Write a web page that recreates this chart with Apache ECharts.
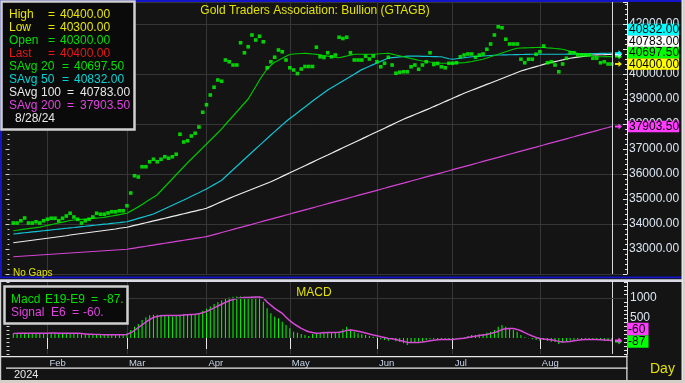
<!DOCTYPE html>
<html><head><meta charset="utf-8">
<script src="https://cdn.jsdelivr.net/npm/echarts@6/dist/echarts.min.js"></script>
<style>html,body{margin:0;padding:0;background:#141414;}#c{width:685px;height:383px;}</style>
</head><body><div id="c"></div>
<script>
// ---------------- data ----------------
const firstCategory = '2024-01-18';   // one empty day before the first bar
const categoryCount = 164;            // weekdays Jan 18 .. Sep 3 (4 empty days after last bar)
const firstDataIndex = 1;
const priceLabelTicks = [33000, 34000, 35000, 36000, 37000, 38000, 39000, 40000, 41000, 42000];
const macdLabelTicks = [500, 1000];
const lastHigh = 40400, lastLow = 40300, lastOpen = 40300;

const close = [
34040,34040,34130,34240,34040,34040,34090,34040,34130,34190,
34230,34230,34130,34230,34320,34430,34280,34190,34040,34130,
34190,34280,34430,34390,34390,34440,34490,34490,34530,34530,
34730,35240,35930,35880,36290,36290,36490,36590,36490,36590,
36690,36630,36690,36790,37590,37280,37330,37520,37630,37880,
38470,38770,39160,39470,39760,39710,40560,40490,40360,40360,
41250,40850,41090,41560,41360,41510,41290,40250,40490,40670,
40960,40890,40560,40250,40160,40020,40200,40300,40300,40300,
41070,40690,40660,40850,40690,40760,41470,41420,41470,40850,
40560,40560,40560,40710,40600,40720,40490,40290,40430,40670,
40360,40030,40070,40090,40090,40290,40360,40190,40360,40490,
40850,40380,40420,40290,40250,40430,40430,40450,40690,40760,
40800,40800,40670,40760,40800,40990,41200,41560,41890,41850,
41390,41200,41200,41200,40590,40450,40590,40590,40790,40890,
41120,40450,40490,40360,40090,40400,40630,40850,40850,40760,
40760,40760,40760,40630,40630,40450,40490,40400,40400];

const sma20 = [
33730,33751,33772,33793,33814,33835,33856,33877,33910,33943,
33976,34009,34042,34075,34108,34140,34160,34173,34186,34199,
34212,34225,34238,34251,34264,34292,34320,34348,34376,34404,
34430,34515,34600,34685,34782,34879,34976,35073,35170,35330,
35490,35650,35810,35970,36130,36290,36450,36600,36750,36900,
37050,37200,37350,37500,37650,37805,37980,38150,38320,38490,
38660,38830,39000,39250,39500,39760,39990,40200,40350,40470,
40550,40630,40710,40780,40800,40810,40820,40830,40815,40800,
40785,40765,40740,40715,40690,40665,40650,40685,40720,40755,
40790,40790,40790,40790,40790,40790,40800,40810,40820,40830,
40795,40760,40725,40690,40655,40620,40585,40550,40520,40500,
40480,40465,40450,40430,40430,40430,40435,40440,40445,40450,
40475,40500,40530,40560,40590,40640,40690,40740,40790,40840,
40890,40940,40990,41030,41040,41045,41050,41055,41060,41070,
41060,41045,41035,41020,41005,40990,40950,40910,40870,40830,
40800,40775,40750,40720,40690,40690,40692,40695,40697.5];

const sma50 = [
33600,33616,33633,33649,33665,33682,33698,33714,33731,33747,
33763,33780,33796,33812,33829,33845,33861,33878,33894,33910,
33927,33943,33959,33976,33992,34008,34025,34041,34057,34074,
34090,34134,34178,34222,34266,34310,34354,34400,34470,34540,
34610,34680,34750,34820,34890,34960,35033,35107,35180,35253,
35327,35400,35488,35575,35663,35750,35890,36030,36170,36310,
36450,36590,36730,36870,37008,37146,37284,37422,37560,37695,
37830,37965,38100,38217,38333,38450,38567,38683,38800,38917,
39027,39137,39247,39357,39448,39539,39630,39721,39812,39903,
39994,40085,40176,40242,40308,40374,40440,40506,40572,40638,
40653,40668,40683,40698,40713,40720,40716,40712,40708,40704,
40700,40696,40692,40690,40650,40610,40590,40610,40630,40650,
40670,40690,40700,40710,40720,40730,40740,40750,40760,40763,
40767,40770,40773,40777,40780,40783,40787,40790,40790,40790,
40790,40790,40790,40790,40790,40790,40793,40797,40800,40803,
40806,40809,40812,40816,40819,40822,40825,40829,40832];

const sma100 = [
33250,33270,33290,33310,33330,33350,33370,33390,33410,33430,
33450,33470,33490,33510,33530,33560,33580,33600,33620,33640,
33660,33680,33700,33720,33740,33760,33780,33800,33830,33850,
33870,33906,33942,33978,34014,34050,34086,34122,34158,34194,
34230,34266,34302,34338,34374,34410,34446,34482,34518,34554,
34590,34630,34696,34762,34828,34894,34960,35026,35090,35150,
35210,35270,35330,35390,35450,35510,35570,35630,35690,35761,
35833,35904,35976,36047,36119,36190,36261,36333,36404,36476,
36547,36619,36690,36761,36833,36904,36976,37047,37119,37190,
37261,37333,37404,37476,37547,37619,37690,37761,37833,37904,
37976,38047,38119,38190,38253,38316,38379,38441,38504,38567,
38630,38697,38763,38830,38897,38963,39030,39097,39163,39230,
39289,39348,39407,39466,39524,39583,39642,39701,39760,39820,
39880,39940,40000,40060,40120,40164,40209,40253,40297,40341,
40386,40430,40463,40497,40530,40563,40597,40630,40652,40673,
40695,40717,40738,40760,40765,40770,40774,40779,40783];

const sma200 = [
32690,32700,32710,32720,32730,32740,32750,32760,32770,32780,
32790,32800,32810,32820,32830,32840,32850,32860,32870,32880,
32890,32900,32910,32920,32930,32940,32950,32960,32970,32980,
32990,33014,33038,33062,33086,33110,33134,33158,33182,33206,
33230,33254,33278,33302,33326,33350,33374,33398,33422,33446,
33470,33494,33535,33576,33618,33659,33700,33741,33782,33824,
33865,33906,33947,33988,34030,34071,34112,34153,34194,34236,
34277,34318,34359,34400,34442,34483,34524,34565,34606,34648,
34689,34730,34771,34812,34854,34895,34936,34977,35018,35060,
35101,35142,35183,35224,35266,35307,35348,35389,35430,35472,
35513,35554,35595,35636,35678,35719,35760,35801,35842,35884,
35925,35966,36007,36048,36090,36131,36172,36213,36254,36296,
36337,36378,36419,36460,36502,36543,36584,36625,36666,36708,
36749,36790,36831,36872,36914,36955,36996,37037,37078,37120,
37161,37202,37243,37284,37326,37367,37408,37449,37490,37532,
37573,37614,37655,37696,37738,37779,37820,37861,37903.5];

const macd = [
110,120,125,130,125,120,120,118,120,122,
125,122,120,120,118,125,115,110,95,85,
80,80,85,80,78,75,75,78,80,85,
120,200,280,350,450,520,567,580,583,583,
575,575,540,550,583,600,600,600,590,617,
680,730,790,850,900,940,985,1010,1030,1035,
1040,1030,1030,1040,1030,1030,908,742,617,533,
492,408,325,242,158,133,100,75,50,100,
117,130,158,133,133,133,158,217,283,217,
158,117,92,75,50,33,17,-33,-50,-67,
-33,-83,-100,-133,-175,-117,-117,-92,-92,-50,
-33,-33,-33,-33,-33,-33,-33,-8,-8,17,
50,75,75,92,100,130,158,200,283,325,
283,242,200,158,75,17,-8,-33,-50,-67,
-50,-67,-92,-100,-150,-117,-92,-67,-50,-33,
-33,-33,-33,-33,-50,-50,-67,-50,-87];

const signal = [
115,116,118,120,121,121,121,120,120,121,
122,122,121,121,120,121,119,116,110,103,
96,91,89,86,84,81,79,79,79,81,
90,130,190,260,330,400,460,517,540,555,
562,565,560,560,565,572,580,588,592,605,
630,662,705,752,800,845,890,930,960,985,
1000,1010,1015,1020,1022,1024,1000,900,820,742,
680,617,520,433,360,300,242,195,158,135,
120,125,132,135,135,140,145,160,190,200,
190,170,150,125,100,75,55,30,10,-10,
-20,-40,-60,-80,-110,-115,-115,-110,-100,-85,
-70,-55,-45,-40,-35,-35,-35,-25,-15,-5,
10,30,45,60,75,90,110,135,170,210,
230,240,235,215,180,135,90,50,15,-10,
-25,-35,-45,-60,-90,-100,-95,-85,-70,-55,
-45,-40,-35,-35,-40,-45,-50,-55,-60];

[['close',close],['sma20',sma20],['sma50',sma50],['sma100',sma100],['sma200',sma200],['macd',macd],['signal',signal]]
  .forEach(([n,a]) => { if (a.length !== 159) throw new Error(n + ' has ' + a.length); });

// ---------------- categories (weekdays, "No Gaps") ----------------
const MONTHS = ['Jan','Feb','Mar','Apr','May','Jun','Jul','Aug','Sep','Oct','Nov','Dec'];
const categories = [];
{
  const d = new Date(firstCategory + 'T00:00:00Z');
  while (categories.length < categoryCount) {
    const wd = d.getUTCDay();
    if (wd !== 0 && wd !== 6) categories.push(d.toISOString().slice(0, 10));
    d.setUTCDate(d.getUTCDate() + 1);
  }
}
const lastDataIndex = firstDataIndex + close.length - 1;
const lastDate = categories[lastDataIndex];
const monthStart = new Set();
for (let i = firstDataIndex; i <= lastDataIndex; i++) {
  if (i > 0 && categories[i].slice(5, 7) !== categories[i - 1].slice(5, 7)) monthStart.add(i);
}
const isMonthStart = (idx) => monthStart.has(idx);
const pairs = (arr) => arr.map((v, k) => [categories[firstDataIndex + k], v]);

// ---------------- styling ----------------
const FONT = '"Liberation Sans", Arial, sans-serif';
const GRID = '#363636';
const AXIS = '#e4e4e4';
const C20 = '#00c400', C50 = '#12c4d4', C100 = '#ececec', C200 = '#d444d4';

const option = {
  backgroundColor: '#141414',
  animation: false,
  textStyle: { fontFamily: FONT },
  grid: [
    { left: 9.5, right: 58, top: 2, height: 272 },
    { left: 9.5, right: 58, top: 282, height: 72 }
  ],
  xAxis: [
    { type: 'category', gridIndex: 0, data: categories, boundaryGap: false,
      axisLine: { show: false }, axisTick: { show: false }, axisLabel: { show: false },
      splitLine: { show: true, interval: isMonthStart, lineStyle: { color: GRID, width: 1 } } },
    { type: 'category', gridIndex: 1, data: categories, boundaryGap: false, offset: 3,
      axisLine: { show: false },
      axisTick: { show: true, interval: isMonthStart, length: 11, lineStyle: { color: '#e8e8e8' } },
      axisLabel: { show: true, interval: isMonthStart, align: 'left', margin: 1, padding: [0, 0, 0, 2],
        color: '#c8d4e8', fontSize: 9.5, fontFamily: FONT,
        formatter: (v) => MONTHS[parseInt(v.slice(5, 7), 10) - 1] },
      splitLine: { show: true, interval: isMonthStart, lineStyle: { color: GRID, width: 1 } } }
  ],
  yAxis: [
    { type: 'value', gridIndex: 0, position: 'right', min: 32000, max: 42880, interval: 1000,
      axisLine: { show: true, lineStyle: { color: AXIS } },
      axisTick: { show: true, inside: true, length: 4, lineStyle: { color: AXIS } },
      minorTick: { show: true, splitNumber: 5, length: 2, lineStyle: { color: AXIS } },
      axisLabel: { margin: 2, color: '#dce6f2', fontSize: 12, fontFamily: FONT,
        formatter: (v) => priceLabelTicks.includes(v) ? v.toFixed(2) : '' },
      splitLine: { show: false } },
    { type: 'value', gridIndex: 0, position: 'right', min: 32000, max: 42880, interval: 2000,
      axisLine: { show: false }, axisTick: { show: false }, axisLabel: { show: false },
      splitLine: { show: true, lineStyle: { color: GRID, width: 1 } } },
    { type: 'value', gridIndex: 0, position: 'left', min: 32000, max: 42880, interval: 1000,
      axisLine: { show: false },
      axisTick: { show: true, length: 4, lineStyle: { color: '#cfcfcf' } },
      minorTick: { show: true, splitNumber: 5, length: 2, lineStyle: { color: '#cfcfcf' } },
      axisLabel: { show: false }, splitLine: { show: false } },
    { type: 'value', gridIndex: 1, position: 'right', min: -400, max: 1400, interval: 100,
      axisLine: { show: true, lineStyle: { color: AXIS } },
      axisTick: { show: true, inside: true, length: 3, lineStyle: { color: AXIS } },
      axisLabel: { margin: 3, color: '#dce6f2', fontSize: 12, fontFamily: FONT,
        formatter: (v) => macdLabelTicks.includes(v) ? String(v) : '' },
      splitLine: { show: false } },
    { type: 'value', gridIndex: 1, position: 'left', min: -400, max: 1400, interval: 100,
      axisLine: { show: false },
      axisTick: { show: true, length: 3, lineStyle: { color: '#cfcfcf' } },
      axisLabel: { show: false }, splitLine: { show: false } }
  ],
  series: [
    { name: 'SAvg 200', type: 'line', xAxisIndex: 0, yAxisIndex: 0, data: pairs(sma200),
      showSymbol: false, lineStyle: { color: C200, width: 1.2 }, z: 2 },
    { name: 'SAvg 100', type: 'line', xAxisIndex: 0, yAxisIndex: 0, data: pairs(sma100),
      showSymbol: false, lineStyle: { color: C100, width: 1.2 }, z: 2 },
    { name: 'SAvg 50', type: 'line', xAxisIndex: 0, yAxisIndex: 0, data: pairs(sma50),
      showSymbol: false, lineStyle: { color: C50, width: 1.2 }, z: 2 },
    { name: 'SAvg 20', type: 'line', xAxisIndex: 0, yAxisIndex: 0, data: pairs(sma20),
      showSymbol: false, lineStyle: { color: C20, width: 1.2 }, z: 2 },
    { name: 'Close', type: 'scatter', xAxisIndex: 0, yAxisIndex: 0, data: pairs(close),
      symbol: 'rect', symbolSize: 3.6, itemStyle: { color: '#00ff00' }, z: 4,
      markLine: { silent: true, symbol: 'none', label: { show: false },
        lineStyle: { color: '#d8d8d8', width: 1, type: 'solid' },
        data: [{ xAxis: lastDate }] } },
    { name: 'Macd', type: 'bar', xAxisIndex: 1, yAxisIndex: 3, data: pairs(macd),
      barWidth: 1, itemStyle: { color: '#00ff00' }, z: 2,
      markLine: { silent: true, symbol: 'none', label: { show: false },
        data: [
          { xAxis: lastDate, lineStyle: { color: '#d8d8d8', width: 1, type: 'solid' } },
          { yAxis: 1000, lineStyle: { color: GRID, width: 1, type: 'solid' } }
        ] } },
    { name: 'Signal', type: 'line', xAxisIndex: 1, yAxisIndex: 3, data: pairs(signal),
      showSymbol: false, lineStyle: { color: '#d848d8', width: 1.5 }, z: 3 }
  ]
};

const chart = echarts.init(document.getElementById('c'), null, { renderer: 'canvas' });
chart.setOption(option);

// ---------------- decorations (frames, legend boxes, value flags) ----------------
const g = [];
const rect = (x, y, w, h, fill, z, stroke, lw) => g.push({ type: 'rect', z: z || 90, silent: true,
  shape: { x, y, width: w, height: h }, style: { fill: fill || 'none', stroke: stroke || null, lineWidth: lw || 0 } });
const txt = (x, y, s, color, size, align, z) => g.push({ type: 'text', z: z || 120, silent: true, x, y,
  style: { text: s, fill: color, font: (size || 12) + 'px ' + FONT, align: align || 'left', verticalAlign: 'middle' } });
const arrow = (y, color) => g.push({ type: 'polygon', z: 100, silent: true,
  shape: { points: [[615, y - 1], [618.5, y - 1], [618.5, y - 3], [622, y], [618.5, y + 3], [618.5, y + 1], [615, y + 1]] },
  style: { fill: color } });

// frames
rect(0, 0, 682, 2, '#1414c8');
rect(0, 0, 2, 278, '#1414c8');
rect(0, 276.5, 682, 1.8, '#1414c8');
rect(0, 279.3, 682, 2.7, '#dadae6');
rect(681.5, 0, 1.5, 383, '#e4e4e4');
rect(683, 0, 2, 383, '#d4d0c8');
rect(0, 356, 627.5, 1.3, '#e8e8e8');
rect(6, 367.5, 621.5, 1.3, '#e8e8e8');
rect(626.3, 354, 1.2, 26, '#e8e8e8');
rect(0, 380, 685, 3, '#d4d0c8');
rect(0, 282, 1.2, 98, '#d0d0d0');

// title and captions
txt(315, 11, 'Gold Traders Association: Bullion (GTAGB)', '#e2e200', 12, 'center');
txt(13, 273.5, 'No Gaps', '#e2e200', 10);
txt(314, 293, 'MACD', '#e2e200', 12, 'center');
txt(650, 369, 'Day', '#e2e200', 14);
txt(14, 375, categories[lastDataIndex].slice(0, 4), '#e8e8e8', 11);

// main legend box
rect(1.5, 1.5, 133, 128, '#0a0a0a', 110, '#d0d0d0', 2.5);
const f2 = (v) => v.toFixed(2);
const YEL = '#e6e600', GRN = '#00e000';
const lrows = [
  ['High', '', 48, 60, f2(lastHigh), YEL],
  ['Low', '', 48, 60, f2(lastLow), YEL],
  ['Open', '', 48, 60, f2(lastOpen), GRN],
  ['Last', '', 48, 60, f2(close[close.length - 1]), '#e81818'],
  ['SAvg', '20', 62, 74, f2(sma20[sma20.length - 1]), GRN],
  ['SAvg', '50', 62, 74, f2(sma50[sma50.length - 1]), '#00d4d4'],
  ['SAvg', '100', 67, 80, f2(sma100[sma100.length - 1]), '#e8e8e8'],
  ['SAvg', '200', 67, 80, f2(sma200[sma200.length - 1]), '#e044e0']
];
lrows.forEach((r, k) => {
  const y = 15 + k * 13;
  txt(9, y, r[0], r[5]);
  if (r[1]) txt(41, y, r[1], r[5]);
  txt(r[2], y, '=', r[5]);
  txt(r[3], y, r[4], r[5]);
});
const ld = lastDate.split('-');
txt(15, 119, parseInt(ld[1], 10) + '/' + parseInt(ld[2], 10) + '/' + ld[0].slice(2), '#e8e8e8');

// MACD legend box
rect(4.5, 286.5, 123, 37, '#0a0a0a', 110, '#d0d0d0', 2.5);
const macdLast = Math.round(macd[macd.length - 1]);
const sigLast = Math.round(signal[signal.length - 1]);
txt(11, 300, 'Macd', GRN); txt(45, 300, 'E19-E9', GRN); txt(91, 300, '=', GRN); txt(103, 300, macdLast + '.', GRN);
txt(11, 313, 'Signal', '#e044e0'); txt(51, 313, 'E6', '#e044e0'); txt(72, 313, '=', '#e044e0'); txt(83, 313, sigLast + '.', '#e044e0');

// value flags on the right axis (positions from the axis scale, stacked to avoid overlap)
function flags(list, axisIndex, h, w, x, fmt) {
  const items = list.map((it) => Object.assign({}, it, { py: chart.convertToPixel({ yAxisIndex: axisIndex }, it.v) }));
  items.sort((a, b) => b.py - a.py);
  let prev = null;
  items.forEach((it) => {
    arrow(it.py, it.arrow);
    let cy = it.py;
    if (prev !== null) cy = Math.min(cy, prev - h);
    prev = cy;
    rect(x, cy - h / 2, w, h, it.bg, 115);
    txt(x + 1, cy + 0.5, fmt(it.v), '#000000', 12, 'left', 116);
  });
}
flags([
  { v: sma50[sma50.length - 1], bg: '#00ffff', arrow: '#00ffff' },
  { v: sma100[sma100.length - 1], bg: '#ffffff', arrow: '#ffffff' },
  { v: sma20[sma20.length - 1], bg: '#00ff00', arrow: '#00ff00' },
  { v: close[close.length - 1], bg: '#ffff00', arrow: '#e6e600' }
], 0, 11.5, 51, 628, f2);
flags([{ v: sma200[sma200.length - 1], bg: '#ff3cff', arrow: '#ff3cff' }], 0, 11.5, 51, 628, f2);
flags([
  { v: macd[macd.length - 1], bg: '#00ff00', arrow: '#00ff00' },
  { v: signal[signal.length - 1], bg: '#ff3cff', arrow: '#ff3cff' }
], 3, 12.5, 21.5, 627, (v) => String(Math.round(v)));

chart.setOption({ graphic: { elements: g } });
</script>
</body></html>
